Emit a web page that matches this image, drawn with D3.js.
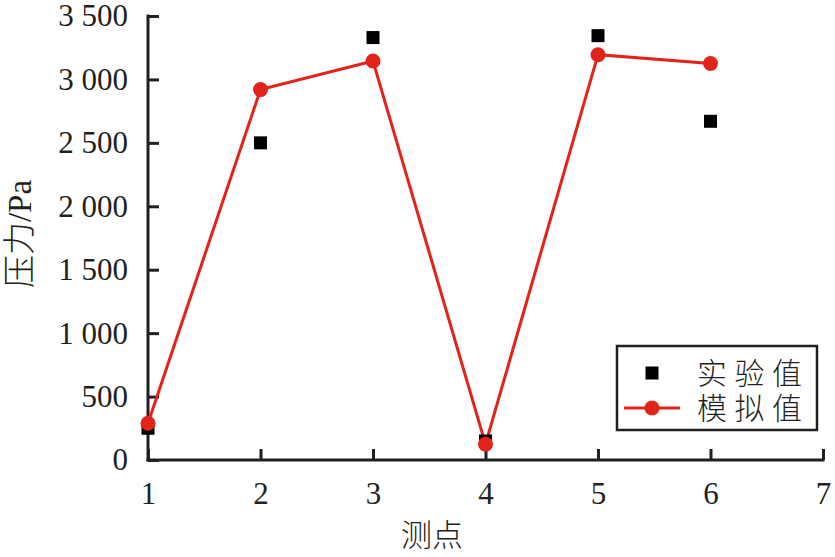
<!DOCTYPE html>
<html><head><meta charset="utf-8">
<script src="https://cdn.jsdelivr.net/npm/d3@7"></script>
<style>body{margin:0;background:#fff}</style>
</head><body>
<svg id="c" width="835" height="557"></svg>
<script>
const points = [1, 2, 3, 4, 5, 6];
const experimental = [250, 2500, 3330, 150, 3345, 2670];
const simulated = [290, 2920, 3145, 125, 3195, 3125];
const xTicks = [1, 2, 3, 4, 5, 6, 7];
const yTicks = [0, 500, 1000, 1500, 2000, 2500, 3000, 3500];
const yTickLabels = ["0", "500", "1 000", "1 500", "2 000", "2 500", "3 000", "3 500"];
const legendLabels = ["实验值", "模拟值"];

const svg = d3.select("#c");
const L = 148, R = 823, T = 16, B = 460;
const x = d3.scaleLinear().domain([1, 7]).range([L, R]);
const y = d3.scaleLinear().domain([0, 3500]).range([B, T]);
const axisColor = "#231f20";
const serif = "'Liberation Serif','DejaVu Serif',serif";
const cjk = "'Noto Sans CJK SC','Liberation Serif',serif";

// x axis
const xa = svg.append("g").attr("transform", `translate(0,${B})`)
  .call(d3.axisBottom(x).tickValues(xTicks).tickFormat(d3.format("d")).tickSizeInner(-11).tickSizeOuter(0).tickPadding(22));
xa.select(".domain").attr("stroke", axisColor).attr("stroke-width", 3).attr("d", `M${L - 1.5},0H${R + 1.5}`);
xa.selectAll(".tick line").attr("stroke", axisColor).attr("stroke-width", 3);
xa.selectAll(".tick text").attr("font-family", serif).attr("font-size", 31).attr("fill", axisColor).attr("dy", "0.71em");

// y axis
const ya = svg.append("g").attr("transform", `translate(${L},0)`)
  .call(d3.axisLeft(y).tickValues(yTicks).tickFormat((d, i) => yTickLabels[i]).tickSizeInner(-11).tickSizeOuter(0).tickPadding(20));
ya.select(".domain").attr("stroke", axisColor).attr("stroke-width", 3).attr("d", `M0,${T - 1.5}V${B + 1.5}`);
ya.selectAll(".tick line").attr("stroke", axisColor).attr("stroke-width", 3);
ya.selectAll(".tick text").attr("font-family", serif).attr("font-size", 31).attr("fill", axisColor);

// axis titles
svg.append("text").attr("x", 432).attr("y", 546).attr("text-anchor", "middle")
  .attr("font-family", cjk).attr("font-size", 31).attr("font-weight", 300).attr("fill", axisColor).text("测点");
svg.append("text").attr("transform", "translate(31,234) rotate(-90)").attr("text-anchor", "middle")
  .attr("font-family", cjk).attr("font-size", 33).attr("font-weight", 300).attr("fill", axisColor)
  .selectAll("tspan").data([["压力", cjk], ["/Pa", serif]]).join("tspan")
  .attr("font-family", d => d[1]).text(d => d[0]);

const red = "#e2231a";
// simulated line
svg.append("path").datum(points.map((p, i) => [p, simulated[i]]))
  .attr("fill", "none").attr("stroke", red).attr("stroke-width", 3)
  .attr("d", d3.line().x(d => x(d[0])).y(d => y(d[1])));

// experimental squares
svg.append("g").selectAll("rect").data(points.map((p, i) => [p, experimental[i]])).join("rect")
  .attr("x", d => x(d[0]) - 6.5).attr("y", d => y(d[1]) - 6.5).attr("width", 13).attr("height", 13).attr("fill", "#000");

// simulated circles
svg.append("g").selectAll("circle").data(points.map((p, i) => [p, simulated[i]])).join("circle")
  .attr("cx", d => x(d[0])).attr("cy", d => y(d[1])).attr("r", 7.5).attr("fill", red);

// legend
const lg = svg.append("g");
lg.append("rect").attr("x", 617).attr("y", 346).attr("width", 200).attr("height", 84)
  .attr("fill", "#fff").attr("stroke", axisColor).attr("stroke-width", 2.5);
lg.append("rect").attr("x", 652 - 6.5).attr("y", 373 - 6.5).attr("width", 13).attr("height", 13).attr("fill", "#000");
lg.append("line").attr("x1", 624).attr("x2", 680).attr("y1", 408).attr("y2", 408).attr("stroke", red).attr("stroke-width", 3);
lg.append("circle").attr("cx", 652).attr("cy", 408).attr("r", 7.5).attr("fill", red);
lg.selectAll("text.l").data(legendLabels).join("text").attr("class", "l")
  .attr("x", 697).attr("y", (d, i) => 373 + i * 35).attr("dy", "0.36em")
  .attr("font-family", cjk).attr("font-size", 30).attr("font-weight", 300).attr("fill", axisColor)
  .attr("textLength", 105).attr("lengthAdjust", "spacing").text(d => d);
</script>
</body></html>
